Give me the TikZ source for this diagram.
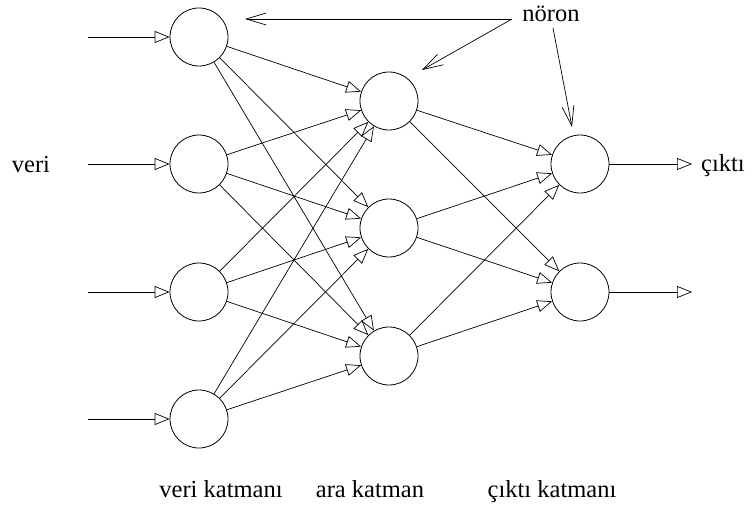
\documentclass[tikz,border=0pt]{standalone}
\usepackage{fontspec}
\setmainfont{Liberation Serif}
\usetikzlibrary{arrows.meta}
\begin{document}
\begin{tikzpicture}[x=1pt,y=-1pt,
  neuron/.style={circle,draw,line width=0.8pt,minimum size=58pt,inner sep=0pt},
  conn/.style={line width=0.7pt,-{Triangle[open,length=15pt,width=12pt,line width=0.7pt]}},
  pointer/.style={line width=0.7pt,-{Straight Barb[length=20pt,width=12pt,line width=0.7pt]}},
  lbl/.style={font=\fontsize{24.5}{29}\selectfont,inner sep=0pt,anchor=base}]
\useasboundingbox (0,0) rectangle (754,508);
% input layer
\node[neuron] (i1) at (199,37) {};
\node[neuron] (i2) at (199,164) {};
\node[neuron] (i3) at (199,292) {};
\node[neuron] (i4) at (199,419) {};
% hidden layer
\node[neuron] (h1) at (389,101) {};
\node[neuron] (h2) at (389,228) {};
\node[neuron] (h3) at (389,356) {};
% output layer
\node[neuron] (o1) at (580,164) {};
\node[neuron] (o2) at (580,292) {};
% input arrows
\coordinate (s1) at (88,37);
\coordinate (s2) at (88,164);
\coordinate (s3) at (88,292);
\coordinate (s4) at (88,419);
\foreach \k in {1,2,3,4} \draw[conn] (s\k) -- (i\k);
% input -> hidden
\foreach \a in {1,2,3,4} \foreach \b in {1,2,3} \draw[conn] (i\a) -- (h\b);
% hidden -> output
\foreach \a in {1,2,3} \foreach \b in {1,2} \draw[conn] (h\a) -- (o\b);
% output arrows
\coordinate (e1) at (692,164);
\coordinate (e2) at (692,292);
\draw[conn] (o1) -- (e1);
\draw[conn] (o2) -- (e2);
% labels
\node[lbl] (veri) at (31,172) {veri};
\node[lbl,anchor=base west] (cikti) at (701,171) {çıktı};
\node[lbl] (noron) at (551,22) {nöron};
\node[lbl] (l1) at (221,497) {veri katmanı};
\node[lbl] (l2) at (370,497) {ara katman};
\node[lbl] (l3) at (552,497) {çıktı katmanı};
% pointers
\coordinate (p0) at (512,19);
\coordinate (p1) at (245,19);
\coordinate (p2) at (422,70);
\coordinate (p3) at (553,28);
\coordinate (p4) at (572,127);
\draw[pointer] (p0) -- (p1);
\draw[pointer] (p0) -- (p2);
\draw[pointer] (p3) -- (p4);
\end{tikzpicture}
\end{document}
